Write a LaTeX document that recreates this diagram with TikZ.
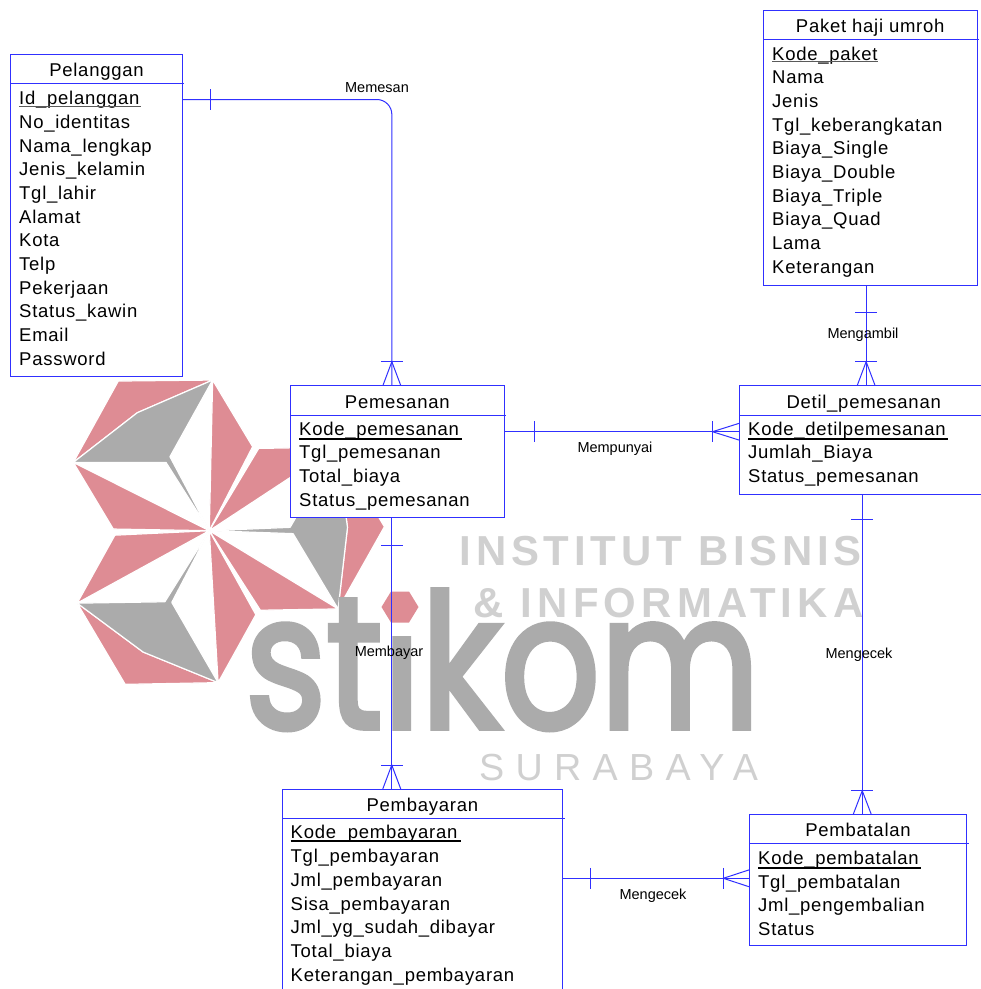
\documentclass[tikz,border=0pt]{standalone}
\usepackage{fontspec}
\usepackage{graphicx}
\setmainfont{Liberation Sans}
\newfontfamily\erfont{Liberation Sans}[LetterSpace=4]
\newfontfamily\wmfontA{Liberation Sans}[LetterSpace=11.4]
\newfontfamily\wmfontB{Liberation Sans}[LetterSpace=12.6]
\newfontfamily\surfont{Liberation Sans}[LetterSpace=30]
\newfontfamily\stikomfont{Poppins}[FakeBold=3]
\usetikzlibrary{calc}
\definecolor{erblue}{RGB}{48,48,255}
\definecolor{logored}{RGB}{222,140,148}
\definecolor{logogray}{RGB}{171,171,171}
\definecolor{wmgray}{RGB}{208,208,208}
\definecolor{ulgray}{RGB}{90,90,90}
\tikzset{
  erline/.style={draw=erblue, line width=1pt},
  entbox/.style={draw=erblue, line width=1pt, fill=white, inner sep=0pt, outer sep=0pt, anchor=north west},
  attr/.style={font=\erfont\fontsize{18.5}{22}\selectfont, inner sep=0pt, anchor=base west, text=black},
  ttl/.style={font=\erfont\fontsize{18.5}{22}\selectfont, inner sep=0pt, anchor=base, text=black},
  rellabel/.style={font=\fontsize{14.5}{17}\selectfont, inner sep=0pt, text=black},
  keyline/.style={line width=1.8pt, black},
  keylinegray/.style={line width=1.5pt, ulgray},
  redpiece/.style={fill=logored, draw=white, line width=1.2pt, line join=round},
  graypiece/.style={fill=logogray, draw=white, line width=1.2pt, line join=round},
}
\newcommand{\logounit}{%
  \path[redpiece] (-408,-205) -- (-273,-449) -- (10,-452) -- (-216,-354) -- cycle;
  \path[graypiece] (-408,-205) -- (-216,-354) -- (10,-452) -- (-118,-222) -- (0,0) -- (-130,-205) -- cycle;
  \path[redpiece] (10,-452) -- (130,-252) -- (0,0) -- cycle;
  \path[redpiece] (-408,-205) -- (0,0) -- (-288,-5) -- cycle;
}
\begin{document}
\begin{tikzpicture}[x=1pt,y=-1pt]
\useasboundingbox (0,0) rectangle (981,989);
\clip (0,0) rectangle (981,989);
\fill[white] (0,0) rectangle (981,989);

% ---------- watermark logo ----------
\begin{scope}[shift={(209.3,530.7)}, scale=1/3]
  \foreach \r in {0,-120,120} {
    \begin{scope}[rotate=\r]
      \logounit
    \end{scope}
  }
\end{scope}
\node[anchor=base west, inner sep=0pt, text=logogray] (stk) at (245,728)
  {\resizebox{514pt}{142pt}{\stikomfont stikom}};
% the dot of the i is a red hexagon in the logo
\fill[white] (380,574) rectangle (421,636);
\fill[logored] (381.5,607) -- (391,591.5) -- (409,591.5) -- (418.5,607) -- (409,622.5) -- (391,622.5) -- cycle;
\node[anchor=base west, inner sep=0pt, text=wmgray, font=\wmfontA\bfseries\fontsize{41.9}{45}\selectfont] (wm1) at (459.5,565) {INSTITUT BISNIS};
\node[anchor=base west, inner sep=0pt, text=wmgray, font=\wmfontB\bfseries\fontsize{41.9}{45}\selectfont] (wm2) at (473.3,617) {\&~INFORMATIKA};
\node[anchor=base west, inner sep=0pt, text=wmgray, font=\surfont\fontsize{37.7}{40}\selectfont] (wm3) at (479,780) {SURABAYA};

% ---------- Pelanggan ----------
\node[entbox, minimum width=171.3pt, minimum height=322pt] (pel) at (10.7,54) {};
\draw[erline] ($(pel.north west)+(0,29)$) -- ($(pel.north east)+(2,29)$);
\node[ttl] (pelt) at (96.5,76) {Pelanggan};
\foreach \t [count=\i from 0] in {Id\_pelanggan,No\_identitas,Nama\_lengkap,Jenis\_kelamin,Tgl\_lahir,Alamat,Kota,Telp,Pekerjaan,Status\_kawin,Email,Password}
  \node[attr] (pel-\i) at (19,{104.6+23.7*\i}) {\t};
\draw[keylinegray] ($(pel-0.base west)+(0,2.1)$) -- ++(122,0);

% ---------- Paket haji umroh ----------
\node[entbox, minimum width=213.7pt, minimum height=274.3pt] (pak) at (763.3,10.7) {};
\draw[erline] ($(pak.north west)+(0,28.3)$) -- ($(pak.north east)+(2,28.3)$);
\node[ttl] (pakt) at (870.2,32.3) {Paket haji umroh};
\foreach \t [count=\i from 0] in {Kode\_paket,Nama,Jenis,Tgl\_keberangkatan,Biaya\_Single,Biaya\_Double,Biaya\_Triple,Biaya\_Quad,Lama,Keterangan}
  \node[attr] (pak-\i) at (772,{60+23.7*\i}) {\t};
\draw[keylinegray] ($(pak-0.base west)+(0,1.7)$) -- ++(106,0);

% ---------- Pemesanan ----------
\node[entbox, minimum width=213.3pt, minimum height=131.6pt] (pem) at (290.7,385.7) {};
\draw[erline] ($(pem.north west)+(0,29.3)$) -- ($(pem.north east)+(2,29.3)$);
\node[ttl] (pemt) at (397.3,408.3) {Pemesanan};
\foreach \t [count=\i from 0] in {Kode\_pemesanan,Tgl\_pemesanan,Total\_biaya,Status\_pemesanan}
  \node[attr] (pem-\i) at (299,{435+23.9*\i}) {\t};
\draw[keyline] ($(pem-0.base west)+(0,4)$) -- ++(163,0);

% ---------- Detil_pemesanan ----------
\node[entbox, minimum width=248.5pt, minimum height=108.3pt] (det) at (739.5,385.7) {};
\draw[erline] ($(det.north west)+(0,29.3)$) -- ($(det.north east)+(2,29.3)$);
\node[ttl] (dett) at (863.7,408.3) {Detil\_pemesanan};
\foreach \t [count=\i from 0] in {Kode\_detilpemesanan,Jumlah\_Biaya,Status\_pemesanan}
  \node[attr] (det-\i) at (748,{435+23.85*\i}) {\t};
\draw[keyline, line width=1.3pt] ($(det-0.base west)+(0,4)$) -- ++(200,0);

% ---------- Pembayaran ----------
\node[entbox, minimum width=280.2pt, minimum height=215pt] (pby) at (282.3,789) {};
\draw[erline] ($(pby.north west)+(0,29.3)$) -- ($(pby.north east)+(2,29.3)$);
\node[ttl] (pbyt) at (422.4,811) {Pembayaran};
\foreach \t [count=\i from 0] in {Kode\_pembayaran,Tgl\_pembayaran,Jml\_pembayaran,Sisa\_pembayaran,Jml\_yg\_sudah\_dibayar,Total\_biaya,Keterangan\_pembayaran}
  \node[attr] (pby-\i) at (290.5,{838.3+23.9*\i}) {\t};
\draw[keyline] ($(pby-0.base west)+(0,2.7)$) -- ++(170,0);

% ---------- Pembatalan ----------
\node[entbox, minimum width=217.4pt, minimum height=131.4pt] (pbt) at (749.3,814.3) {};
\draw[erline] ($(pbt.north west)+(0,29)$) -- ($(pbt.north east)+(2,29)$);
\node[ttl] (pbtt) at (858,836.7) {Pembatalan};
\foreach \t [count=\i from 0] in {Kode\_pembatalan,Tgl\_pembatalan,Jml\_pengembalian,Status}
  \node[attr] (pbt-\i) at (758,{864.3+23.8*\i}) {\t};
\draw[keyline] ($(pbt-0.base west)+(0,3.4)$) -- ++(163,0);

% ---------- Memesan ----------
\coordinate (memA) at ($(pel.north east)+(0,45.5)$);
\coordinate (memB) at ($(pem.north)+(-5.5,0)$);
\draw[erline, rounded corners=15pt] (memA) -| (memB);
\draw[erline] ($(memA)+(28,-10.5)$) -- ++(0,21);
\draw[erline] ($(memB)+(-11,-24)$) -- ++(22,0);
\draw[erline] ($(memB)+(-9,0)$) -- ($(memB)+(0,-24)$) -- ($(memB)+(9,0)$);
\node[rellabel] (lmem) at (377,88) {Memesan};

% ---------- Mempunyai ----------
\coordinate (mpA) at ($(pem.north east)+(0,46)$);
\coordinate (mpB) at (mpA -| det.west);
\draw[erline] (mpA) -- (mpB);
\draw[erline] ($(mpA)+(30,-10.5)$) -- ++(0,21);
\draw[erline] ($(mpB)+(-27,-10.5)$) -- ++(0,21);
\draw[erline] ($(mpB)+(0,-8.5)$) -- ($(mpB)+(-27,0)$) -- ($(mpB)+(0,8.5)$);
\node[rellabel] (lmp) at (615,449) {Mempunyai};

% ---------- Mengambil ----------
\coordinate (maA) at ($(pak.south)+(-4,0)$);
\coordinate (maB) at (maA |- det.north);
\draw[erline] (maA) -- (maB);
\draw[erline] ($(maA)+(-11,27)$) -- ++(22,0);
\draw[erline] ($(maB)+(-11,-24)$) -- ++(22,0);
\draw[erline] ($(maB)+(-9,0)$) -- ($(maB)+(0,-24)$) -- ($(maB)+(9,0)$);
\node[rellabel] (lma) at (863,335) {Mengambil};

% ---------- Membayar ----------
\coordinate (mbA) at ($(pem.south)+(-5.6,0)$);
\coordinate (mbB) at (mbA |- pby.north);
\draw[erline] (mbA) -- (mbB);
\draw[erline] ($(mbA)+(-11,28)$) -- ++(22,0);
\draw[erline] ($(mbB)+(-11,-24)$) -- ++(22,0);
\draw[erline] ($(mbB)+(-9,0)$) -- ($(mbB)+(0,-24)$) -- ($(mbB)+(9,0)$);
\node[rellabel] (lmb) at (389,653) {Membayar};

% ---------- Mengecek (Detil - Pembatalan) ----------
\coordinate (mcA) at ($(det.south)+(-1.5,0)$);
\coordinate (mcB) at (mcA |- pbt.north);
\draw[erline] (mcA) -- (mcB);
\draw[erline] ($(mcA)+(-11,25.7)$) -- ++(22,0);
\draw[erline] ($(mcB)+(-11,-23.6)$) -- ++(22,0);
\draw[erline] ($(mcB)+(-9,0)$) -- ($(mcB)+(0,-23.6)$) -- ($(mcB)+(9,0)$);
\node[rellabel] (lmc) at (859,655) {Mengecek};

% ---------- Mengecek (Pembayaran - Pembatalan) ----------
\coordinate (mdA) at ($(pby.north east)+(0,89.3)$);
\coordinate (mdB) at (mdA -| pbt.west);
\draw[erline] (mdA) -- (mdB);
\draw[erline] ($(mdA)+(28,-10.5)$) -- ++(0,21);
\draw[erline] ($(mdB)+(-26,-10.5)$) -- ++(0,21);
\draw[erline] ($(mdB)+(0,-8.5)$) -- ($(mdB)+(-26,0)$) -- ($(mdB)+(0,8.5)$);
\node[rellabel] (lmd) at (653,896) {Mengecek};
\end{tikzpicture}
\end{document}
